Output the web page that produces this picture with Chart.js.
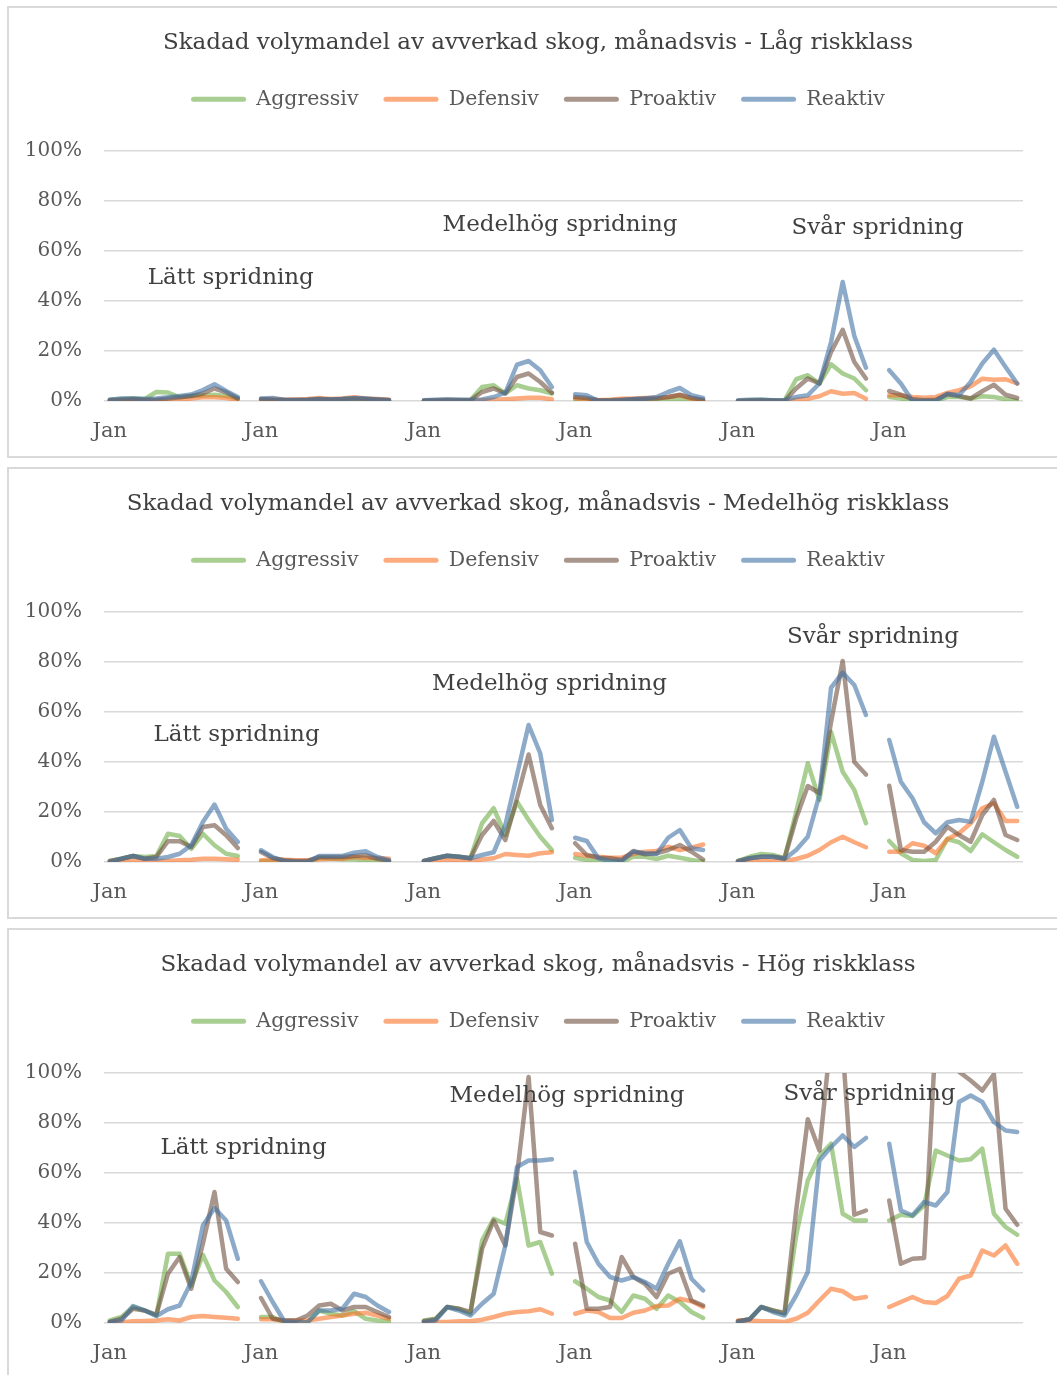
<!DOCTYPE html>
<html>
<head>
<meta charset="utf-8">
<script src="https://cdn.jsdelivr.net/npm/chart.js@4.4.0/dist/chart.umd.min.js"></script>
<style>
html, body { margin: 0; padding: 0; background: #fff; overflow: hidden; }
.panel { position: absolute; left: 7px; width: 1062px; height: 452px; border: 2px solid #d9d9d9; box-sizing: border-box; background: #fff; }
.panel canvas { display: block; }
</style>
</head>
<body>
<div class="panel" style="top:6px"><canvas id="chart1" width="1058" height="448"></canvas></div>
<div class="panel" style="top:467px"><canvas id="chart2" width="1058" height="448"></canvas></div>
<div class="panel" style="top:928px"><canvas id="chart3" width="1058" height="448"></canvas></div>
<script>
// manader, sex ar per diagram
var months = ['Jan', 'Feb', 'Mar', 'Apr', 'Maj', 'Jun', 'Jul', 'Aug', 'Sep', 'Okt', 'Nov', 'Dec'];
var gapsAfterYear = [1, 2, 1, 2, 1];
var seriesNames = ['Aggressiv', 'Defensiv', 'Proaktiv', 'Reaktiv'];
var yTicks = [0, 20, 40, 60, 80, 100];
var titles = [
    'Skadad volymandel av avverkad skog, månadsvis - Låg riskklass',
    'Skadad volymandel av avverkad skog, månadsvis - Medelhög riskklass',
    'Skadad volymandel av avverkad skog, månadsvis - Hög riskklass'
];
var noteTexts = ['Lätt spridning', 'Medelhög spridning', 'Svår spridning'];

// Låg riskklass (procent)
var lagAggressiv = [0.5, 0.8, 1, 0.8, 3.6, 3.4, 1.5, 2, 2.2, 2.5, 2, 1,
    0.3, 0.3, 0.2, 0.2, 0.3, 0.3, 0.4, 0.4, 0.5, 0.4, 0.3, 0.2,
    0, 0.2, 0.3, 0.2, 0.3, 5.6, 6.3, 3, 6.3, 5, 4.3, 3,
    0.7, 0.3, 0, 0, 0, 0.3, 0.4, 0.5, 0.5, 0.9, 0.3, 0,
    0, 0.3, 0.5, 0.2, 0.2, 8.7, 10.3, 7, 14.7, 11, 9, 4.3,
    1.6, 1, 0, 0, 0, 1.6, 1.6, 1, 1.9, 1.6, 0.7, 0];
var lagDefensiv = [0.2, 0.3, 0.3, 0.3, 0.3, 0.5, 0.5, 1, 1.5, 1.5, 1.2, 0.5,
    0.5, 0.8, 0.5, 0.6, 0.8, 1.2, 0.8, 1, 1.5, 1, 0.8, 0.5,
    0, 0, 0, 0, 0, 0.3, 0.5, 0.7, 1, 1.3, 1.3, 0.7,
    1, 0.7, 0.3, 0.5, 0.9, 0.9, 1.2, 1.2, 1.6, 2.3, 0.9, 0.3,
    0, 0, 0, 0, 0, 0.5, 0.9, 1.9, 3.9, 2.9, 3.2, 0.9,
    2.3, 2.3, 1.6, 1.3, 1.6, 3.2, 4.3, 5.9, 8.9, 8.5, 8.7, 7];
var lagProaktiv = [0.3, 0.5, 0.8, 0.5, 0.5, 1, 1.5, 2, 3, 5, 3.5, 1,
    0.8, 0.5, 0.4, 0.4, 0.5, 0.8, 0.6, 0.8, 1, 0.8, 0.6, 0.4,
    0.2, 0.3, 0.5, 0.4, 0.3, 3.6, 5, 3, 9.6, 11, 7.6, 3.3,
    1.6, 1.2, 0.3, 0.3, 0.5, 0.8, 0.9, 1, 1.6, 2.5, 1.3, 0.5,
    0, 0.2, 0.3, 0.2, 0, 5, 9, 7, 19.6, 28.5, 15.6, 9,
    4, 2.5, 0.7, 0.3, 0.5, 2.7, 2, 1, 3.9, 6.5, 2.5, 1.2];
var lagReaktiv = [0.5, 1, 1, 0.8, 1, 1.5, 2, 2.6, 4.4, 6.7, 4, 1.6,
    1, 1.2, 0.5, 0.4, 0.5, 0.8, 0.6, 0.8, 1.2, 1, 0.6, 0.3,
    0.3, 0.5, 0.6, 0.5, 0.5, 0.6, 1.6, 3.3, 14.5, 16, 12.3, 5.6,
    2.7, 2.3, 0, 0, 0.3, 0.7, 1, 1.6, 3.6, 5.2, 2.3, 1.2,
    0.3, 0.5, 0.5, 0.3, 0.3, 1.6, 2.3, 7, 23.6, 47.6, 26, 13.3,
    12.3, 7, 0, 0, 0, 2.9, 2.3, 7.6, 15, 20.5, 13.6, 7];

// Medelhög riskklass
var medAggressiv = [0.4, 1.3, 2.4, 2, 2.4, 11.3, 10.4, 5.3, 11.3, 6.7, 3.3, 2.4,
    0.3, 0.3, 0.3, 0, 0, 1.6, 1.3, 1.1, 1.1, 0.7, 0.3, 0,
    0.4, 1.5, 2.5, 2.1, 1.5, 15.5, 21.5, 10.8, 24.1, 16.8, 10.1, 4.8,
    1.7, 0.8, 0, 0, 0, 2.1, 2.1, 1.2, 2.5, 1.7, 0.8, 0.1,
    0.4, 2.1, 3.2, 2.8, 1.5, 20, 39.5, 24.8, 52, 36.1, 28.8, 15.5,
    8.4, 3.5, 0.8, 0.4, 0.8, 9.2, 7.9, 4.4, 11.1, 7.9, 4.8, 2.1];
var medDefensiv = [0, 0.4, 0.7, 0.4, 0.4, 0.4, 0.7, 0.9, 1.3, 1.3, 1.1, 0.9,
    0.7, 1, 0.9, 0.7, 0.7, 1.1, 1.3, 1.3, 2, 1.6, 1.6, 1.3,
    0, 0.4, 0.8, 0.5, 0.4, 1, 1.5, 3.2, 2.8, 2.5, 3.5, 3.9,
    3.2, 2.5, 2.1, 1.7, 1.7, 3.2, 4.1, 4.4, 6.1, 4.8, 5.7, 7,
    0, 0.4, 0.7, 0.4, 0.4, 1.2, 2.5, 4.8, 7.9, 10.1, 7.9, 5.9,
    4.1, 4.1, 7.5, 6.5, 3.5, 9.2, 11.5, 15.5, 21.5, 23.5, 16.4, 16.4];
var medProaktiv = [0.4, 1.3, 2.4, 1.3, 2, 8.3, 8.3, 6, 14, 14.7, 10.7, 5.6,
    4, 1.6, 0.7, 0.4, 0.4, 2, 2, 2, 2.4, 2.7, 1.3, 0.4,
    0.4, 1.5, 2.5, 2.1, 1.5, 10.8, 16.4, 8.8, 25.5, 43, 22.8, 13.5,
    7.5, 2.8, 1.7, 1.5, 0.8, 4.4, 3.1, 3.5, 4.8, 6.8, 4.1, 1,
    0.4, 1.5, 2.1, 2.1, 1.5, 17.5, 30.4, 27.5, 56, 80.4, 40, 35,
    30.5, 4.8, 4.1, 4.1, 8.1, 14.1, 10.8, 8.1, 18.8, 24.8, 10.8, 8.8];
var medReaktiv = [0, 1.3, 2.4, 1.3, 1.3, 2, 3.3, 6.7, 16, 23, 13.3, 8,
    4.7, 2, 0.3, 0, 0, 2.4, 2.4, 2.4, 3.7, 4.3, 2, 0.7,
    0.4, 1.5, 2.5, 2.1, 1.5, 2.8, 3.9, 14.8, 34.8, 54.8, 43.5, 16.8,
    9.7, 8.4, 1.5, 0.4, 0.4, 4.1, 3.5, 3.2, 9.7, 12.8, 5.5, 4.8,
    0.1, 1.5, 2.1, 2.1, 1.2, 4.8, 10.1, 26.8, 69.7, 75.7, 70.8, 58.8,
    48.8, 32.1, 25.5, 15.9, 11.5, 15.9, 16.8, 16.1, 32.1, 50.1, 36.1, 22.1];

// Hög riskklass
var hogAggressiv = [1, 2.4, 6.4, 5, 3, 27.7, 27.7, 15, 27.3, 17, 12.4, 6.4,
    2.4, 2.4, 0.3, 0, 0.3, 5, 3.7, 3, 4.7, 1.7, 1, 0.7,
    1, 1.7, 6.4, 5.7, 3.7, 33, 41.7, 39.7, 57.7, 31, 32.4, 19.7,
    16.7, 13.7, 10.4, 9, 4.4, 11, 9.7, 5.7, 11, 8.4, 4.4, 2,
    0.7, 1.5, 6.4, 5, 3.7, 35, 57, 67, 71.7, 43.7, 41, 41,
    41, 43.3, 42.8, 47, 69, 67, 65, 65.5, 69.7, 43.7, 38.4, 35.3];
var hogDefensiv = [0.3, 0.3, 0.7, 0.8, 1, 1.5, 1, 2.4, 2.8, 2.4, 2.1, 1.7,
    1.5, 1.5, 1, 1, 1, 1.7, 2.4, 3, 3.7, 4.1, 3, 1.7,
    0.4, 0.4, 0.4, 0.7, 0.7, 1.3, 2.4, 3.7, 4.4, 4.7, 5.5, 3.7,
    3.7, 5, 4.4, 2, 2, 4.1, 5, 6.8, 7, 9.7, 8.7, 6.4,
    1, 1, 0.7, 0.7, 0.4, 1.7, 4.1, 9, 13.7, 12.7, 9.7, 10.4,
    6.4, 8.4, 10.4, 8.4, 8, 10.8, 17.7, 19, 29, 27, 31, 23.7];
var hogProaktiv = [0.4, 1.7, 5.7, 5, 3.3, 19.7, 26.4, 13.7, 31.7, 52.4, 21.7, 16.4,
    10, 1.7, 1, 1, 3, 7, 7.7, 5, 6.4, 6.4, 4.4, 2.4,
    0.7, 1.5, 6.4, 5.7, 4.4, 29.7, 41, 31, 59, 98.4, 36.4, 35,
    31.7, 5.7, 5.7, 6.4, 26.4, 18.4, 15.7, 10.4, 19.7, 21.7, 9, 7,
    0.7, 1.5, 6.4, 5, 4, 45, 81.5, 69, 115, 110, 43.3, 45,
    49, 23.7, 25.7, 26, 115, 110, 100.5, 97, 93, 99.5, 45.7, 39.3];
var hogReaktiv = [0.4, 1, 6.8, 5, 2.8, 5.5, 7, 16.4, 39, 46, 41, 25.7,
    16.7, 8.4, 0.7, 0.3, 0.3, 5, 5, 5.7, 11.7, 10.4, 7, 4.4,
    0.4, 1, 6.4, 5, 3, 7.7, 11.7, 31, 62.4, 65, 65, 65.5,
    60.4, 32.4, 23.7, 18.4, 17, 18.4, 16.4, 13.7, 23.7, 32.7, 17.7, 13,
    0.4, 1.5, 6.4, 4.4, 3, 11, 20.4, 65, 70.4, 75, 70.4, 74,
    71.7, 45, 43, 48.4, 47, 52.4, 88.4, 91, 88.4, 80.4, 77, 76.4];

var colors = ['rgba(112,173,71,0.6)', 'rgba(250,115,40,0.6)',
    'rgba(110,78,62,0.6)', 'rgba(65,115,165,0.6)'];

// text positions in data units: [kategoriindex, procent]
var notePlaces = [
    [[10.4, 49], [38.7, 70.4], [66.0, 69.2]],
    [[10.9, 50.8], [37.8, 71.2], [65.6, 90]],
    [[11.5, 70], [39.3, 90.8], [65.3, 91.6]]
];

function buildLabels() {
    var out = [];
    for (var y = 0; y < 6; y++) {
        out = out.concat(months);
        if (y < 5) {
            for (var g = 0; g < gapsAfterYear[y]; g++) out.push('');
        }
    }
    return out;
}

function withGaps(values) {
    var out = [];
    for (var y = 0; y < 6; y++) {
        out = out.concat(values.slice(y * 12, y * 12 + 12));
        if (y < 5) {
            for (var g = 0; g < gapsAfterYear[y]; g++) out.push(null);
        }
    }
    return out;
}

var notesPlugin = {
    id: 'notes',
    afterDatasetsDraw: function (chart, args, opts) {
        var ctx = chart.ctx;
        ctx.save();
        ctx.font = '23px "DejaVu Serif"';
        ctx.fillStyle = '#404040';
        ctx.textAlign = 'center';
        ctx.textBaseline = 'middle';
        opts.places.forEach(function (p, i) {
            ctx.fillText(noteTexts[i],
                chart.scales.x.getPixelForValue(p[0]),
                chart.scales.y.getPixelForValue(p[1]));
        });
        ctx.restore();
    }
};

function drawChart(id, title, series, places) {
    var datos = {
        labels: buildLabels(),
        datasets: series.map(function (vals, i) {
            return {
                label: seriesNames[i],
                data: withGaps(vals),
                borderColor: colors[i],
                backgroundColor: colors[i],
                borderWidth: 4.5,
                pointRadius: 0,
                tension: 0,
                spanGaps: false,
                borderJoinStyle: 'round',
                borderCapStyle: 'round',
                order: 4 - i
            };
        })
    };

    var canvas = document.getElementById(id).getContext('2d');
    new Chart(canvas, {
        type: 'line',
        data: datos,
        plugins: [notesPlugin],
        options: {
            responsive: false,
            animation: false,
            layout: { padding: 0 },
            plugins: {
                title: {
                    display: true,
                    text: title,
                    color: '#404040',
                    font: { family: 'DejaVu Serif', size: 23, weight: 'normal' },
                    padding: { top: 21, bottom: 7.4 }
                },
                legend: {
                    position: 'top',
                    labels: {
                        boxWidth: 55,
                        boxHeight: 5,
                        useBorderRadius: true,
                        borderRadius: 2.5,
                        padding: 25,
                        color: '#595959',
                        font: { family: 'DejaVu Serif', size: 20.5 },
                        sort: function (a, b) { return a.datasetIndex - b.datasetIndex; },
                        generateLabels: function (chart) {
                            var items = Chart.defaults.plugins.legend.labels.generateLabels(chart);
                            items.forEach(function (it) { it.lineWidth = 0; });
                            return items;
                        }
                    }
                },
                // spacer between legend and plot
                subtitle: {
                    display: true,
                    text: '',
                    weight: 500,
                    padding: 0,
                    font: { size: 10, lineHeight: '31.5px' }
                },
                tooltip: { enabled: false },
                notes: { places: places }
            },
            scales: {
                x: {
                    offset: true,
                    grid: { display: false, drawTicks: false },
                    border: { display: false },
                    ticks: {
                        autoSkip: false,
                        maxRotation: 0,
                        padding: 18,
                        color: '#595959',
                        font: { family: 'DejaVu Serif', size: 21 },
                        callback: function (value) {
                            var l = this.getLabelForValue(value);
                            return l === 'Jan' ? l : '';
                        }
                    },
                    afterFit: function (scale) { scale.height = 55; }
                },
                y: {
                    min: 0,
                    max: 100,
                    afterBuildTicks: function (scale) {
                        scale.ticks = yTicks.map(function (v) { return { value: v }; });
                    },
                    grid: { color: '#d9d9d9', lineWidth: 1.5, drawTicks: false },
                    border: { display: false },
                    ticks: {
                        padding: 22,
                        color: '#595959',
                        font: { family: 'DejaVu Serif', size: 20 },
                        callback: function (v) { return v + '%'; }
                    },
                    afterFit: function (scale) { scale.width = 95; }
                },
                yRight: {
                    position: 'right',
                    display: true,
                    grid: { display: false, drawTicks: false },
                    border: { display: false },
                    ticks: { display: false },
                    afterFit: function (scale) { scale.width = 44; }
                }
            }
        }
    });
}

drawChart('chart1', titles[0], [lagAggressiv, lagDefensiv, lagProaktiv, lagReaktiv], notePlaces[0]);
drawChart('chart2', titles[1], [medAggressiv, medDefensiv, medProaktiv, medReaktiv], notePlaces[1]);
drawChart('chart3', titles[2], [hogAggressiv, hogDefensiv, hogProaktiv, hogReaktiv], notePlaces[2]);
</script>
</body>
</html>
